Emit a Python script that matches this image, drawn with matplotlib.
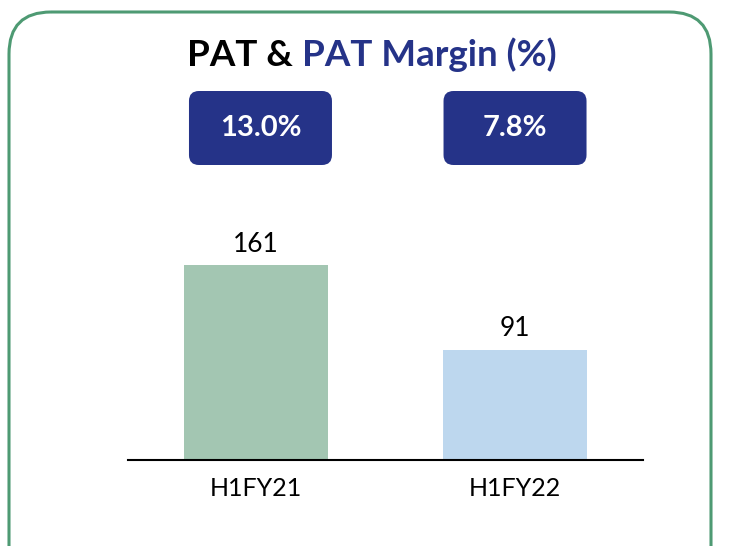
import matplotlib.pyplot as plt
from matplotlib.patches import FancyBboxPatch

periods = ['H1FY21', 'H1FY22']
pat = [161, 91]
margins = ['13.0%', '7.8%']
bar_colors = ['#a3c6b2', '#bdd7ee']

navy = '#253388'
green = '#4e9a73'

plt.rcParams['font.family'] = ['Lato', 'DejaVu Sans']

W, H = 733, 546
fig = plt.figure(figsize=(W / 100, H / 100), dpi=100)

# background layer in pixel units for border, title and the margin boxes
bg = fig.add_axes([0, 0, 1, 1])
bg.set_xlim(0, W)
bg.set_ylim(H, 0)
bg.axis('off')

bg.add_patch(FancyBboxPatch((9, 12), 702, 600,
                            boxstyle='round,pad=0,rounding_size=42',
                            fill=False, edgecolor=green, linewidth=2.2))

t1 = bg.text(187, 55, 'PAT &', fontsize=26.5, fontweight='bold',
             color='black', ha='left', va='center')
bg.annotate('PAT Margin (%)', xy=(1, 0.5), xycoords=t1,
            xytext=(6.5, 0), textcoords='offset points',
            fontsize=26.5, fontweight='bold', color=navy,
            ha='left', va='center')

# main bar axes
x0, x1, base, top = 128, 643, 460, 200
ax = fig.add_axes([x0 / W, (H - base) / H, (x1 - x0) / W, (base - top) / H])
ax.patch.set_alpha(0)
pos = list(range(len(periods)))
bars = ax.bar(pos, pat, width=0.556, color=bar_colors)
ax.set_xlim(-0.494, 1.494)
ax.set_ylim(0, (base - top) / (195 / 161))
for b, v in zip(bars, pat):
    ax.annotate(str(v), (b.get_x() + b.get_width() / 2, v),
                xytext=(0, 6), textcoords='offset points',
                ha='center', va='bottom', fontsize=19)
ax.set_xticks(pos)
ax.set_xticklabels(periods, fontsize=18)
ax.tick_params(axis='x', length=0, pad=12)
ax.set_yticks([])
for s in ['top', 'left', 'right']:
    ax.spines[s].set_visible(False)
ax.spines['bottom'].set_linewidth(1.5)
ax.spines['bottom'].set_color('black')

# margin boxes, roughly above the bars
box_shift = [4.5, 0]
for b, m, dx in zip(bars, margins, box_shift):
    cx = ax.transData.transform((b.get_x() + b.get_width() / 2, 0))[0] + dx
    bw, bh = 143, 74
    bg.add_patch(FancyBboxPatch((cx - bw / 2, 91), bw, bh,
                                boxstyle='round,pad=0,rounding_size=10',
                                facecolor=navy, edgecolor='none'))
    bg.text(cx, 91 + bh / 2, m, color='white', fontsize=21, fontweight='bold',
            ha='center', va='center')

fig.savefig('out.png', dpi=100)
